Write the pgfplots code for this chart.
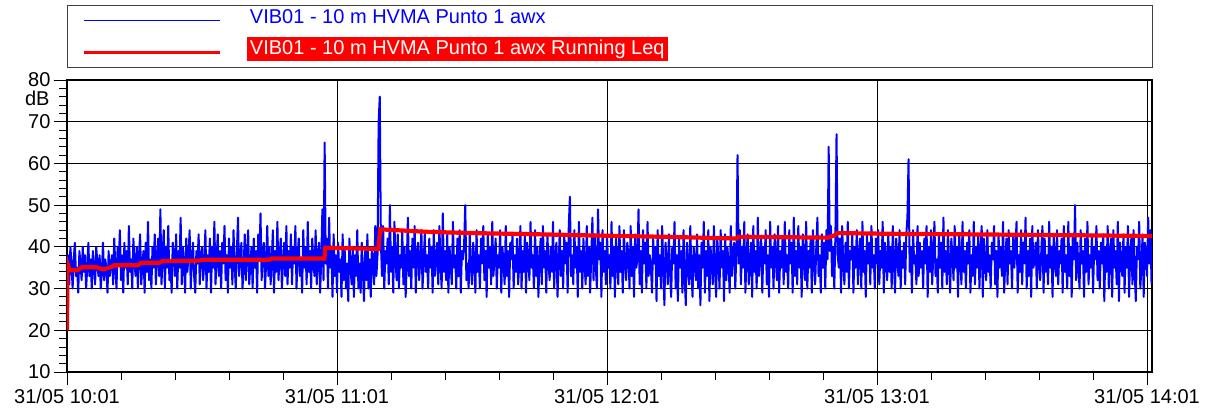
\documentclass[border=0pt]{standalone}
\usepackage{pgfplots}
\pgfplotsset{compat=1.18}
\usepackage{pgfplotstable}
\usepackage{fontspec}
\setmainfont{Liberation Sans}
\definecolor{pblue}{RGB}{0,0,255}
\definecolor{pred}{RGB}{255,0,0}
% awx level sampled every 0.25 min from 31/05 10:01
\pgfplotstableread[row sep=\\]{
y\\
34\\38\\31\\40\\36\\30\\37\\41\\33\\35\\29\\39\\36\\32\\40\\34\\38\\30\\35\\41\\
33\\37\\30\\39\\35\\31\\40\\36\\33\\38\\30\\34\\41\\32\\37\\35\\29\\39\\33\\36\\
38\\31\\42\\35\\30\\40\\36\\44\\32\\38\\29\\41\\35\\39\\31\\45\\34\\37\\30\\42\\
36\\33\\40\\30\\38\\43\\31\\36\\39\\29\\41\\34\\46\\32\\37\\30\\40\\35\\43\\31\\
37\\42\\33\\49\\31\\38\\44\\30\\40\\35\\45\\32\\36\\29\\41\\38\\33\\43\\30\\39\\
35\\47\\31\\40\\36\\29\\42\\34\\38\\44\\30\\37\\41\\33\\29\\39\\36\\43\\31\\38\\
40\\32\\36\\44\\30\\38\\34\\42\\29\\40\\35\\46\\31\\37\\43\\33\\39\\30\\41\\36\\
45\\32\\38\\29\\42\\35\\40\\31\\44\\36\\30\\39\\47\\33\\37\\41\\30\\35\\43\\32\\
38\\44\\31\\36\\40\\30\\42\\35\\39\\29\\43\\37\\48\\32\\38\\41\\30\\36\\45\\33\\
40\\31\\37\\44\\29\\39\\34\\46\\32\\38\\42\\30\\36\\41\\33\\45\\31\\39\\35\\43\\
31\\40\\36\\45\\30\\38\\42\\33\\37\\29\\44\\35\\40\\31\\46\\34\\39\\30\\42\\36\\
33\\44\\31\\38\\41\\29\\37\\49\\32\\65\\36\\42\\30\\47\\35\\40\\28\\43\\33\\38\\
29\\41\\34\\37\\28\\43\\32\\39\\30\\36\\27\\42\\35\\31\\40\\28\\38\\33\\44\\30\\
36\\29\\41\\34\\27\\39\\32\\43\\30\\37\\28\\40\\35\\31\\45\\33\\38\\70\\76\\41\\
33\\45\\30\\39\\36\\42\\31\\50\\34\\40\\29\\46\\37\\32\\43\\30\\38\\35\\44\\31\\
40\\28\\36\\47\\33\\39\\30\\42\\35\\45\\29\\38\\41\\32\\37\\44\\30\\36\\43\\34\\
38\\30\\42\\35\\40\\29\\44\\33\\37\\41\\31\\45\\36\\30\\48\\34\\39\\32\\43\\29\\
40\\36\\31\\46\\35\\38\\30\\42\\33\\44\\29\\39\\37\\41\\50\\32\\36\\30\\43\\35\\
31\\41\\37\\29\\44\\34\\38\\30\\42\\36\\45\\32\\39\\28\\43\\35\\40\\31\\46\\33\\
37\\42\\30\\38\\35\\44\\29\\40\\36\\31\\45\\33\\39\\28\\41\\37\\43\\30\\38\\34\\
42\\31\\36\\45\\30\\39\\34\\43\\29\\41\\37\\32\\46\\35\\38\\30\\44\\33\\40\\28\\
37\\42\\31\\45\\35\\39\\29\\43\\36\\32\\40\\34\\46\\30\\38\\41\\28\\36\\44\\33\\
39\\30\\43\\36\\41\\29\\45\\52\\33\\38\\31\\44\\35\\40\\28\\46\\34\\39\\30\\42\\
36\\31\\45\\33\\40\\29\\38\\47\\32\\43\\35\\30\\49\\37\\41\\28\\44\\34\\39\\31\\
43\\35\\38\\30\\46\\33\\40\\28\\42\\37\\31\\45\\34\\39\\29\\44\\36\\32\\41\\38\\
30\\45\\33\\40\\28\\43\\35\\37\\49\\31\\39\\29\\44\\36\\41\\30\\46\\33\\38\\35\\
29\\42\\36\\40\\27\\44\\33\\38\\30\\45\\35\\26\\41\\37\\31\\43\\34\\28\\40\\36\\
46\\30\\38\\27\\42\\35\\39\\29\\44\\33\\26\\41\\36\\31\\45\\34\\28\\40\\37\\32\\
43\\30\\38\\26\\41\\35\\46\\29\\39\\33\\44\\27\\40\\36\\31\\45\\34\\28\\42\\37\\
30\\44\\35\\39\\27\\43\\32\\40\\36\\29\\45\\33\\38\\41\\30\\39\\62\\36\\44\\31\\
40\\35\\46\\29\\38\\43\\31\\36\\41\\28\\45\\34\\39\\30\\47\\33\\37\\42\\29\\40\\
36\\44\\31\\38\\28\\46\\35\\40\\30\\43\\37\\32\\45\\29\\39\\35\\42\\31\\46\\34\\
38\\30\\44\\36\\41\\29\\47\\33\\39\\31\\45\\35\\40\\28\\43\\37\\32\\46\\30\\39\\
35\\42\\29\\44\\36\\31\\40\\47\\33\\38\\29\\43\\35\\41\\30\\44\\37\\64\\39\\45\\
33\\40\\30\\43\\67\\38\\35\\42\\29\\45\\36\\31\\41\\34\\46\\30\\39\\37\\43\\29\\
40\\35\\44\\31\\38\\42\\30\\46\\34\\39\\28\\43\\36\\41\\31\\45\\35\\38\\30\\42\\
36\\44\\31\\39\\35\\46\\29\\41\\37\\32\\43\\34\\40\\30\\45\\36\\29\\42\\38\\33\\
44\\30\\39\\35\\41\\31\\43\\47\\61\\34\\40\\29\\44\\36\\38\\31\\45\\33\\41\\35\\
39\\30\\42\\36\\45\\28\\40\\34\\44\\31\\38\\46\\33\\37\\29\\43\\35\\41\\30\\47\\
34\\39\\31\\44\\36\\29\\42\\38\\32\\45\\35\\40\\28\\43\\37\\31\\46\\34\\39\\30\\
41\\36\\44\\29\\38\\33\\46\\31\\40\\35\\43\\30\\39\\45\\28\\42\\36\\32\\44\\34\\
38\\30\\41\\37\\45\\31\\39\\28\\43\\35\\40\\33\\46\\29\\37\\42\\31\\44\\36\\39\\
30\\43\\35\\40\\46\\29\\38\\34\\44\\31\\41\\36\\47\\30\\39\\33\\42\\28\\45\\35\\
37\\41\\30\\44\\36\\32\\39\\45\\29\\42\\34\\38\\31\\46\\35\\40\\28\\43\\37\\33\\
44\\31\\39\\36\\42\\29\\45\\34\\38\\30\\46\\33\\40\\28\\43\\37\\50\\32\\41\\35\\
30\\44\\36\\39\\28\\42\\34\\46\\31\\38\\35\\43\\29\\40\\37\\45\\32\\39\\30\\41\\
36\\43\\27\\40\\34\\45\\30\\38\\42\\28\\44\\35\\39\\31\\46\\27\\41\\36\\33\\43\\
29\\40\\35\\45\\28\\38\\42\\31\\44\\34\\27\\40\\37\\46\\30\\35\\43\\28\\41\\38\\
33\\47\\36\\44\\31\\
}\vibdata
\begin{document}
\begin{tikzpicture}
\begin{axis}[
  name=ax,
  scale only axis,
  width=1085pt, height=292pt,
  xmin=0, xmax=241.1, ymin=10, ymax=80,
  xtick={0,60,120,180,240},
  xticklabels={31/05 10:01,31/05 11:01,31/05 12:01,31/05 13:01,31/05 14:01},
  minor xtick={12,24,36,48,72,84,96,108,132,144,156,168,192,204,216,228},
  ytick={10,20,30,40,50,60,70,80},
  minor ytick={12,14,16,18,22,24,26,28,32,34,36,38,42,44,46,48,52,54,56,58,62,64,66,68,72,74,76,78},
  tick pos=left,
  tick align=outside,
  major tick length=13pt,
  minor tick length=8pt,
  tick style={black, line width=0.9pt},
  xmajorgrids, ymajorgrids,
  grid style={black, line width=0.9pt},
  axis line style={black, line width=1.4pt},
  ticklabel style={font=\fontsize{20}{24}\selectfont},
  /pgf/number format/assume math mode=true,
  ylabel={dB},
  ylabel style={font=\fontsize{20}{24}\selectfont, rotate=-90, at={(axis description cs:0,0.937)}, anchor=east, xshift=-14pt},
  legend style={at={(rel axis cs:0,1)}, anchor=south west, xshift=15pt, yshift=24pt,
    draw=none, fill=none, inner sep=0pt, row sep=11.5pt, column sep=26pt,
    font=\fontsize{20}{24}\selectfont, nodes={inner sep=0pt}},
  legend cell align=left,
  legend image code/.code={\draw[#1] (0pt,-4pt) -- (136pt,-4pt);},
]
\addplot[pblue, line width=2pt, line join=round, forget plot] table[x expr=\coordindex*0.25, y=y] {\vibdata};
\addplot[pred, line width=4.2pt, forget plot] coordinates {
(0,20) (0.1,36) (0.6,34.4) (2.3,34.4) (3.3,35.1) (6.6,35.1) (8,34.6) (10,35.2) (10.5,35.6) (15.8,35.6) (16.5,36.2) (20.5,36.2) (21.3,36.6) (29.5,36.7) (30,36.9) (45,36.9) (45.5,37.2) (57.2,37.2) (57.4,39.8) (65,39.6) (69.2,39.5) (69.6,44.2) (80,43.6) (90,43.3) (105,43.0) (118,42.7) (133,42.4) (148.9,42.0) (149.2,42.4) (160,42.3) (169.1,42.2) (170.6,42.8) (171.2,43.3) (185,43.1) (200,43.0) (222,42.8) (241.1,42.6)
};
\addlegendimage{pblue, line width=0.8pt}
\addlegendentry{\colorbox{white}{\textcolor{pblue}{VIB01 - 10 m HVMA Punto 1 awx}}}
\addlegendimage{pred, line width=2.8pt, yshift=-2.5pt}
\addlegendentry{\colorbox{pred}{\textcolor{white}{VIB01 - 10 m HVMA Punto 1 awx Running Leq}}}
\end{axis}
\draw[black!75, line width=0.8pt] ([yshift=13pt]ax.north west) rectangle ([yshift=75pt]ax.north east);
\path ([xshift=-67pt,yshift=-40pt]ax.south west) rectangle ([xshift=54pt,yshift=80pt]ax.north east);
\end{tikzpicture}
\end{document}
